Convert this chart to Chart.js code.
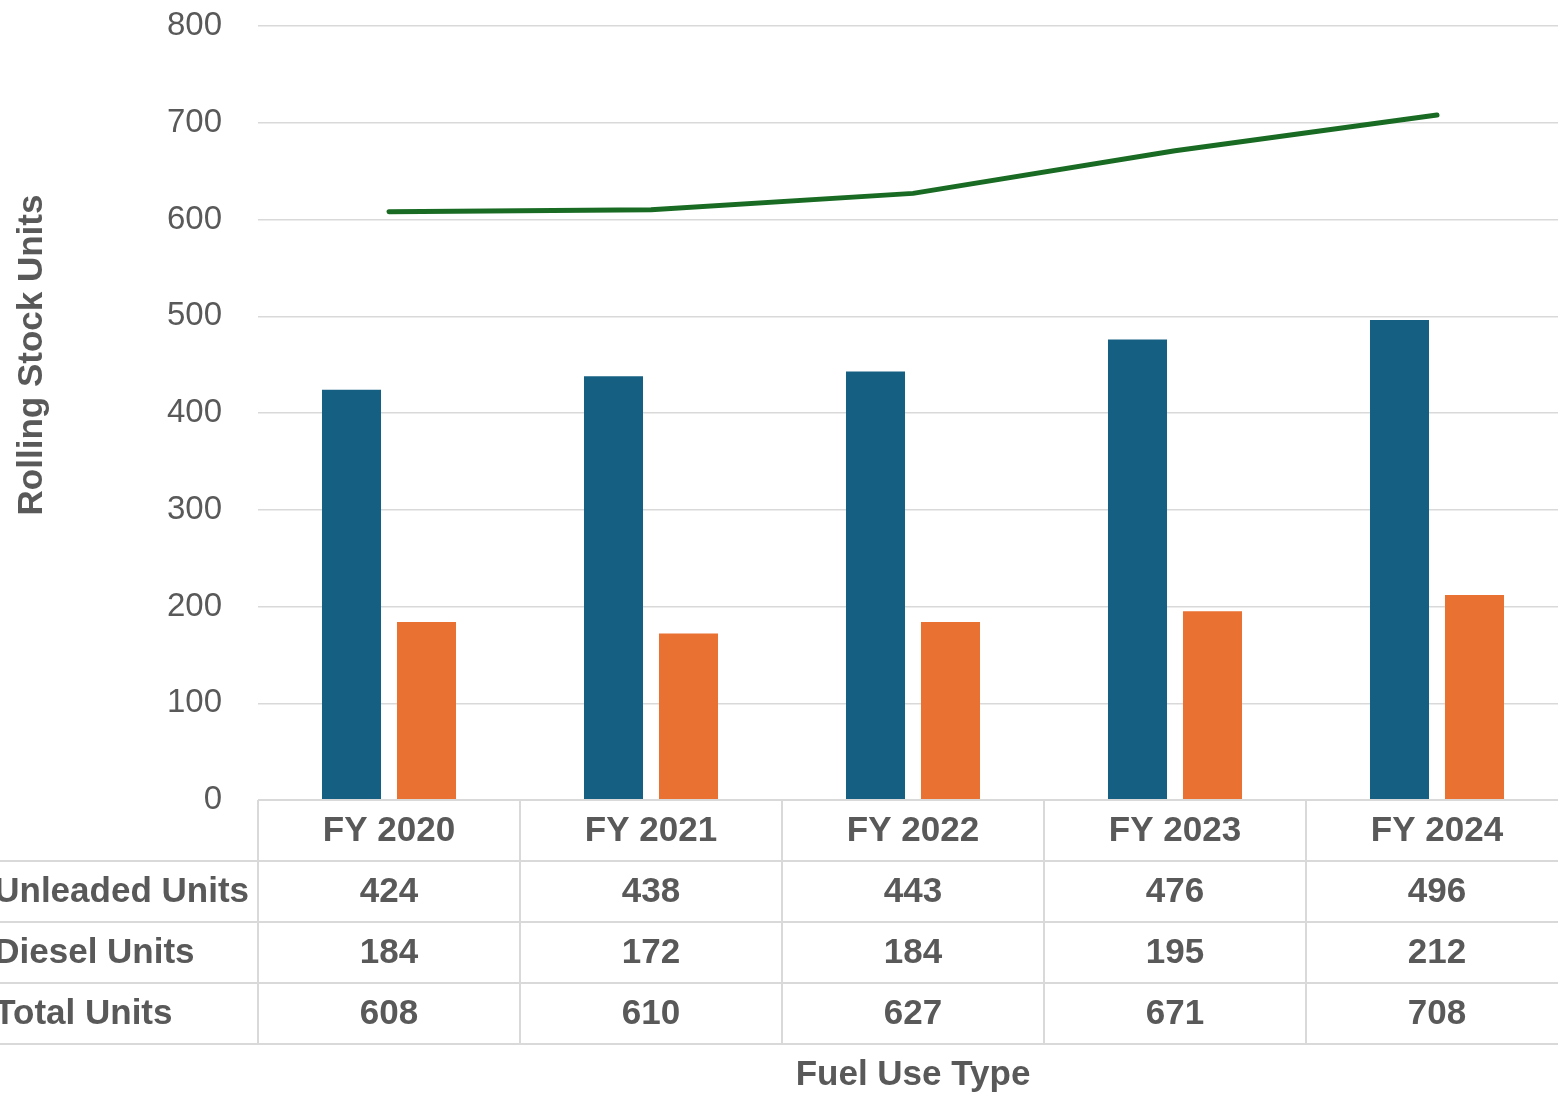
<!DOCTYPE html>
<html>
<head>
<meta charset="utf-8">
<script src="https://cdn.jsdelivr.net/npm/chart.js@4/dist/chart.umd.min.js"></script>
<style>
  html, body { margin: 0; padding: 0; overflow: hidden; background: #fff; }
  #wrap { width: 1600px; height: 1095px; position: relative; }
</style>
</head>
<body>
<div id="wrap"><canvas id="c"></canvas></div>
<script>
// Fleet counts by fiscal year
const categories = ['FY 2020', 'FY 2021', 'FY 2022', 'FY 2023', 'FY 2024'];
const unleadedUnits = [424, 438, 443, 476, 496];
const dieselUnits = [184, 172, 184, 195, 212];
const totalUnits = [608, 610, 627, 671, 708];
const seriesNames = ['Unleaded Units', 'Diesel Units', 'Total Units'];
const yAxisTitle = 'Rolling Stock Units';
const xAxisTitle = 'Fuel Use Type';

const FONT = "'Liberation Sans', Arial, sans-serif";
const TEXT = '#595959';
const RULE = '#d9d9d9';

Chart.defaults.font.family = FONT;

// Data table under the plot, aligned to the category scale
const dataTablePlugin = {
  id: 'dataTable',
  afterDraw(chart) {
    const { ctx, chartArea, scales } = chart;
    const x = scales.x;
    const n = categories.length;
    const cw = (chartArea.right - chartArea.left) / n;
    const top = chartArea.bottom;
    const rowH = 61;
    const rows = [unleadedUnits, dieselUnits, totalUnits];
    const bottom = top + rowH * (rows.length + 1);

    ctx.save();
    ctx.strokeStyle = RULE;
    ctx.lineWidth = 2;
    // header row top edge (axis line)
    ctx.beginPath();
    ctx.moveTo(chartArea.left, top);
    ctx.lineTo(chartArea.right, top);
    ctx.stroke();
    // row separators and bottom edge span the full width
    for (let r = 1; r <= rows.length + 1; r++) {
      const y = top + rowH * r;
      ctx.beginPath();
      ctx.moveTo(0, y);
      ctx.lineTo(chartArea.right, y);
      ctx.stroke();
    }
    // vertical cell borders
    for (let i = 0; i <= n; i++) {
      const xx = chartArea.left + cw * i;
      ctx.beginPath();
      ctx.moveTo(xx, top);
      ctx.lineTo(xx, bottom);
      ctx.stroke();
    }

    ctx.fillStyle = TEXT;
    ctx.font = 'bold 35px ' + FONT;
    ctx.textAlign = 'center';
    ctx.textBaseline = 'middle';
    categories.forEach((c, i) => {
      const cx = x.getPixelForValue(i);
      ctx.fillText(c, cx, top + rowH * 0.5 + 1);
      rows.forEach((vals, r) => {
        ctx.fillText(String(vals[i]), cx, top + rowH * (r + 1.5) + 1);
      });
    });

    // row headers, left-aligned and running off the left edge
    ctx.textAlign = 'left';
    const labelX = chartArea.left - 9 - ctx.measureText(seriesNames[0]).width;
    seriesNames.forEach((name, r) => {
      ctx.fillText(name, labelX, top + rowH * (r + 1.5) + 1);
    });

    // axis titles
    ctx.textAlign = 'center';
    ctx.fillText(xAxisTitle, (chartArea.left + chartArea.right) / 2, 1075);
    ctx.translate(32, 355);
    ctx.rotate(-Math.PI / 2);
    ctx.fillText(yAxisTitle, 0, 0);
    ctx.restore();
  }
};

new Chart(document.getElementById('c'), {
  type: 'bar',
  data: {
    labels: categories,
    datasets: [
      {
        type: 'line',
        label: seriesNames[2],
        data: totalUnits,
        borderColor: '#196B24',
        borderWidth: 5,
        borderCapStyle: 'round',
        borderJoinStyle: 'round',
        pointRadius: 0,
        tension: 0,
        fill: false,
        order: 0
      },
      {
        label: seriesNames[0],
        data: unleadedUnits,
        backgroundColor: '#156082',
        categoryPercentage: 0.5725,
        barPercentage: 0.787,
        order: 1
      },
      {
        label: seriesNames[1],
        data: dieselUnits,
        backgroundColor: '#E97132',
        categoryPercentage: 0.5725,
        barPercentage: 0.787,
        order: 1
      }
    ]
  },
  options: {
    responsive: true,
    maintainAspectRatio: false,
    animation: false,
    layout: { padding: { top: 26, bottom: 295, left: 0, right: 32 } },
    plugins: {
      legend: { display: false },
      tooltip: { enabled: false }
    },
    scales: {
      x: {
        display: false,
        offset: true
      },
      y: {
        min: 0,
        max: 800,
        ticks: {
          stepSize: 100,
          padding: 36,
          color: TEXT,
          font: { size: 33 }
        },
        grid: { color: RULE, lineWidth: 1.5, drawTicks: false },
        border: { display: false },
        afterFit(scale) {
          scale.width = 258;
          // tick labels may overhang the plot edges; the page padding covers them
          scale.paddingTop = 0;
          scale.paddingBottom = 0;
        }
      }
    }
  },
  plugins: [dataTablePlugin]
});
</script>
</body>
</html>
